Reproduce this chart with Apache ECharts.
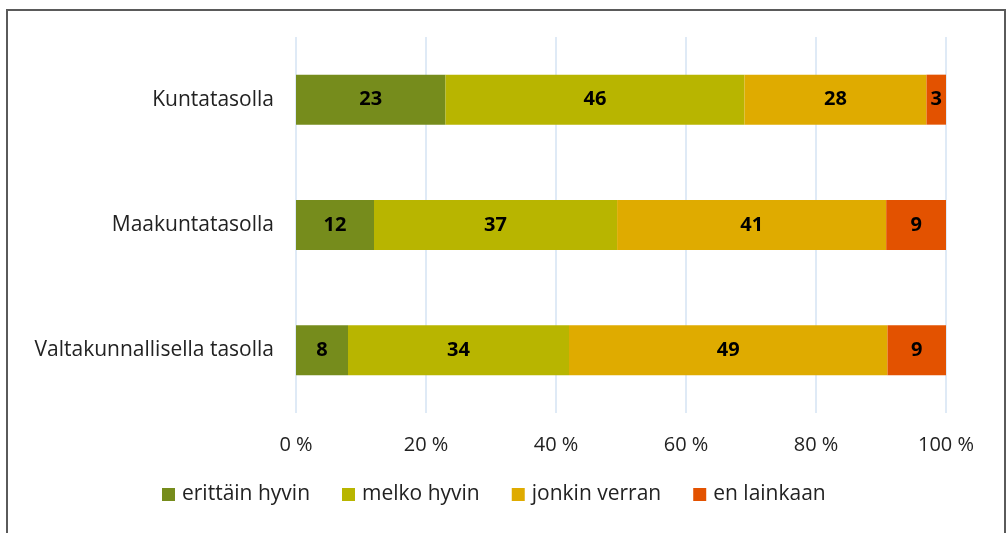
<!DOCTYPE html>
<html><head><meta charset="utf-8">
<script src="https://cdn.jsdelivr.net/npm/echarts@6/dist/echarts.min.js"></script>
<style>
html,body{margin:0;padding:0;background:#fff;}
#frame{position:absolute;left:6px;top:9px;width:1000px;height:600px;border:2px solid #5a5a5a;border-bottom:none;box-sizing:border-box;}
#chart{position:absolute;left:0;top:0;width:1008px;height:533px;}
</style></head>
<body>
<div id="frame"></div>
<div id="chart"></div>
<script>
const categories = ['Valtakunnallisella tasolla', 'Maakuntatasolla', 'Kuntatasolla'];
const seriesNames = ['erittäin hyvin', 'melko hyvin', 'jonkin verran', 'en lainkaan'];
const erittainHyvin = [8, 12, 23];
const melkoHyvin = [34, 37.4, 46];
const jonkinVerran = [49, 41.4, 28];
const enLainkaan = [9, 9.2, 3];
const tickLabels = ['0 %', '20 %', '40 %', '60 %', '80 %', '100 %'];
const colors = ['#768c1c', '#b8b500', '#dfab00', '#e35200'];
const values = [erittainHyvin, melkoHyvin, jonkinVerran, enLainkaan];

const chart = echarts.init(document.getElementById('chart'));
chart.setOption({
  animation: false,
  grid: {left: 296, right: 62, top: 37, bottom: 120},
  legend: {
    top: 479, left: 157, itemWidth: 13, itemHeight: 13, itemGap: 32,
    icon: 'rect',
    textStyle: {fontFamily: 'Open Sans', fontSize: 21, color: '#222', padding: [0, 0, 0, 2]},
    data: seriesNames
  },
  xAxis: {
    type: 'value', min: 0, max: 100, interval: 20,
    axisLine: {show: false}, axisTick: {show: false},
    splitLine: {lineStyle: {color: '#d4e3f3', width: 1.5}},
    axisLabel: {
      margin: 22, fontFamily: 'Open Sans', fontSize: 20, color: '#222',
      formatter: v => tickLabels[v / 20]
    }
  },
  yAxis: {
    type: 'category', data: categories,
    axisLine: {show: false}, axisTick: {show: false},
    axisLabel: {margin: 22, fontFamily: 'Open Sans', fontSize: 21, color: '#222'}
  },
  series: seriesNames.map((name, i) => ({
    name, type: 'bar', stack: 'total', data: values[i],
    barWidth: 50,
    itemStyle: {color: colors[i]},
    label: {
      show: true, position: 'inside', color: '#000',
      fontFamily: 'Open Sans', fontWeight: 'bold', fontSize: 20,
      formatter: p => Math.round(p.value)
    }
  }))
});
</script>
</body></html>
